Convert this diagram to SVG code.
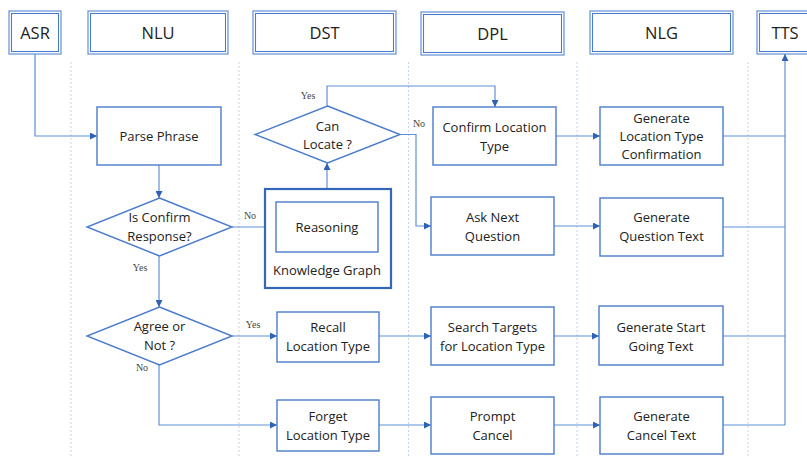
<svg xmlns="http://www.w3.org/2000/svg" width="807" height="459" viewBox="0 0 807 459">
  <defs>
    <marker id="arr" viewBox="0 0 10 10" refX="10" refY="5" markerWidth="7" markerHeight="7" markerUnits="userSpaceOnUse" orient="auto">
      <path d="M0,0 L10,5 L0,10 z" fill="#2f62b5"/>
    </marker>
  </defs>
  <style>
    text { font-family: "Open Sans", "Noto Sans", "Liberation Sans", sans-serif; fill: #222; text-anchor: middle; }
    .t { font-size: 13px; }
    .h { font-size: 16.5px; }
    .lbl { font-family: "Liberation Serif", "DejaVu Serif", serif; font-size: 10px; fill: #444; }
    .box { fill: #fff; stroke: #4a7cc9; stroke-width: 1.4; }
    .kg { fill: #fff; stroke: #3567b8; stroke-width: 2.2; }
    .hout { fill: #fff; stroke: #6f98d8; stroke-width: 1.3; }
    .hin { fill: none; stroke: #4a7cc9; stroke-width: 1.1; }
    .lane { stroke: #c5d5ee; stroke-width: 1; stroke-dasharray: 2 2; fill: none; }
    .c { fill: none; stroke: #6190d6; stroke-width: 1.2; }
    .ca { fill: none; stroke: #6190d6; stroke-width: 1.2; marker-end: url(#arr); }
  </style>
  <rect width="807" height="459" fill="#fff"/>

  <!-- swimlane separators -->
  <g id="lanes">
    <line class="lane" x1="71" y1="62" x2="71" y2="458"/>
    <line class="lane" x1="239" y1="62" x2="239" y2="458"/>
    <line class="lane" x1="408.5" y1="62" x2="408.5" y2="458"/>
    <line class="lane" x1="577" y1="62" x2="577" y2="458"/>
    <line class="lane" x1="748" y1="62" x2="748" y2="458"/>
  </g>

  <!-- lane headers -->
  <g id="hdr-asr">
    <rect class="hout" x="9" y="11" width="52" height="43"/>
    <rect class="hin" x="11.5" y="13.5" width="47" height="38"/>
    <text class="h" x="35" y="38.5">ASR</text>
  </g>
  <g id="hdr-nlu">
    <rect class="hout" x="88" y="11" width="140" height="43"/>
    <rect class="hin" x="90.5" y="13.5" width="135" height="38"/>
    <text class="h" x="158" y="38.5">NLU</text>
  </g>
  <g id="hdr-dst">
    <rect class="hout" x="253" y="11" width="143" height="43"/>
    <rect class="hin" x="255.5" y="13.5" width="138" height="38"/>
    <text class="h" x="324.5" y="38.5">DST</text>
  </g>
  <g id="hdr-dpl">
    <rect class="hout" x="421" y="12" width="143" height="43"/>
    <rect class="hin" x="423.5" y="14.5" width="138" height="38"/>
    <text class="h" x="492.5" y="39.5">DPL</text>
  </g>
  <g id="hdr-nlg">
    <rect class="hout" x="590" y="11" width="143" height="43"/>
    <rect class="hin" x="592.5" y="13.5" width="138" height="38"/>
    <text class="h" x="661.5" y="38.5">NLG</text>
  </g>
  <g id="hdr-tts">
    <rect class="hout" x="757" y="11" width="60" height="43"/>
    <rect class="hin" x="759.5" y="13.5" width="55" height="38"/>
    <text class="h" x="785" y="38.5">TTS</text>
  </g>

  <!-- connectors -->
  <g id="connectors">
    <polyline class="ca" points="35,54 35,136 97,136"/>
    <line class="ca" x1="159" y1="165" x2="159" y2="198"/>
    <line class="ca" x1="232" y1="227" x2="276" y2="227"/>
    <line class="ca" x1="327" y1="202" x2="327" y2="163"/>
    <polyline class="ca" points="327,106 327,86 495,86 495,107"/>
    <polyline class="ca" points="400,134.5 416,134.5 416,226 431,226"/>
    <line class="ca" x1="556" y1="136" x2="600" y2="136"/>
    <line class="ca" x1="554" y1="226" x2="600" y2="226"/>
    <line class="ca" x1="159" y1="256" x2="159" y2="307"/>
    <line class="ca" x1="232" y1="336" x2="277" y2="336"/>
    <polyline class="ca" points="159,365 159,425 277,425"/>
    <line class="ca" x1="379" y1="336" x2="431" y2="336"/>
    <line class="ca" x1="554" y1="336" x2="599" y2="336"/>
    <line class="ca" x1="379" y1="425" x2="431" y2="425"/>
    <line class="ca" x1="554" y1="425" x2="600" y2="425"/>
    <line class="c" x1="723" y1="136" x2="785" y2="136"/>
    <line class="c" x1="723" y1="227" x2="785" y2="227"/>
    <line class="c" x1="723" y1="336" x2="785" y2="336"/>
    <line class="c" x1="723" y1="425" x2="785" y2="425"/>
    <line class="ca" x1="785" y1="425" x2="785" y2="54"/>
    <text class="lbl" x="308" y="99">Yes</text>
    <text class="lbl" x="419" y="127">No</text>
    <text class="lbl" x="250" y="219">No</text>
    <text class="lbl" x="140" y="271">Yes</text>
    <text class="lbl" x="253" y="328">Yes</text>
    <text class="lbl" x="142" y="371">No</text>
  </g>

  <!-- NLU lane -->
  <g id="parse-phrase">
    <rect class="box" x="97" y="107" width="124" height="58"/>
    <text class="t" x="159" y="141">Parse Phrase</text>
  </g>
  <g id="is-confirm">
    <polygon class="box" points="159.5,198 232,227 159.5,256 87,227"/>
    <text class="t" x="159.5" y="222">Is Confirm</text>
    <text class="t" x="159.5" y="241">Response?</text>
  </g>
  <g id="agree-or-not">
    <polygon class="box" points="159.5,307 232,336 159.5,365 87,336"/>
    <text class="t" x="159.5" y="331">Agree or</text>
    <text class="t" x="159.5" y="350">Not ?</text>
  </g>

  <!-- DST lane -->
  <g id="can-locate">
    <polygon class="box" points="327.5,106 400,134.5 327.5,163 255,134.5"/>
    <text class="t" x="327.5" y="131">Can</text>
    <text class="t" x="327.5" y="149">Locate ?</text>
  </g>
  <g id="knowledge-graph">
    <rect class="kg" x="265" y="189" width="126" height="99"/>
    <rect class="box" x="276" y="202" width="102" height="50"/>
    <text class="t" x="327" y="231.5">Reasoning</text>
    <text class="t" x="327" y="275">Knowledge Graph</text>
  </g>
  <g id="recall">
    <rect class="box" x="277" y="312" width="102" height="50"/>
    <text class="t" x="328" y="332">Recall</text>
    <text class="t" x="328" y="351">Location Type</text>
  </g>
  <g id="forget">
    <rect class="box" x="277" y="400" width="102" height="51"/>
    <text class="t" x="328" y="421">Forget</text>
    <text class="t" x="328" y="440">Location Type</text>
  </g>

  <!-- DPL lane -->
  <g id="confirm-location">
    <rect class="box" x="433" y="107" width="123" height="58"/>
    <text class="t" x="494.5" y="132">Confirm Location</text>
    <text class="t" x="494.5" y="151">Type</text>
  </g>
  <g id="ask-next">
    <rect class="box" x="431" y="197" width="123" height="58"/>
    <text class="t" x="492.5" y="222">Ask Next</text>
    <text class="t" x="492.5" y="241">Question</text>
  </g>
  <g id="search-targets">
    <rect class="box" x="431" y="307" width="123" height="58"/>
    <text class="t" x="492.5" y="332">Search Targets</text>
    <text class="t" x="492.5" y="351">for Location Type</text>
  </g>
  <g id="prompt-cancel">
    <rect class="box" x="431" y="397" width="123" height="57"/>
    <text class="t" x="492.5" y="421">Prompt</text>
    <text class="t" x="492.5" y="440">Cancel</text>
  </g>

  <!-- NLG lane -->
  <g id="gen-confirmation">
    <rect class="box" x="600" y="107" width="123" height="58"/>
    <text class="t" x="661.5" y="123">Generate</text>
    <text class="t" x="661.5" y="141">Location Type</text>
    <text class="t" x="661.5" y="159">Confirmation</text>
  </g>
  <g id="gen-question">
    <rect class="box" x="600" y="198" width="123" height="58"/>
    <text class="t" x="661.5" y="222">Generate</text>
    <text class="t" x="661.5" y="241">Question Text</text>
  </g>
  <g id="gen-start">
    <rect class="box" x="599" y="306" width="124" height="59"/>
    <text class="t" x="661" y="332">Generate Start</text>
    <text class="t" x="661" y="351">Going Text</text>
  </g>
  <g id="gen-cancel">
    <rect class="box" x="600" y="397" width="123" height="57"/>
    <text class="t" x="661.5" y="421">Generate</text>
    <text class="t" x="661.5" y="440">Cancel Text</text>
  </g>
</svg>
